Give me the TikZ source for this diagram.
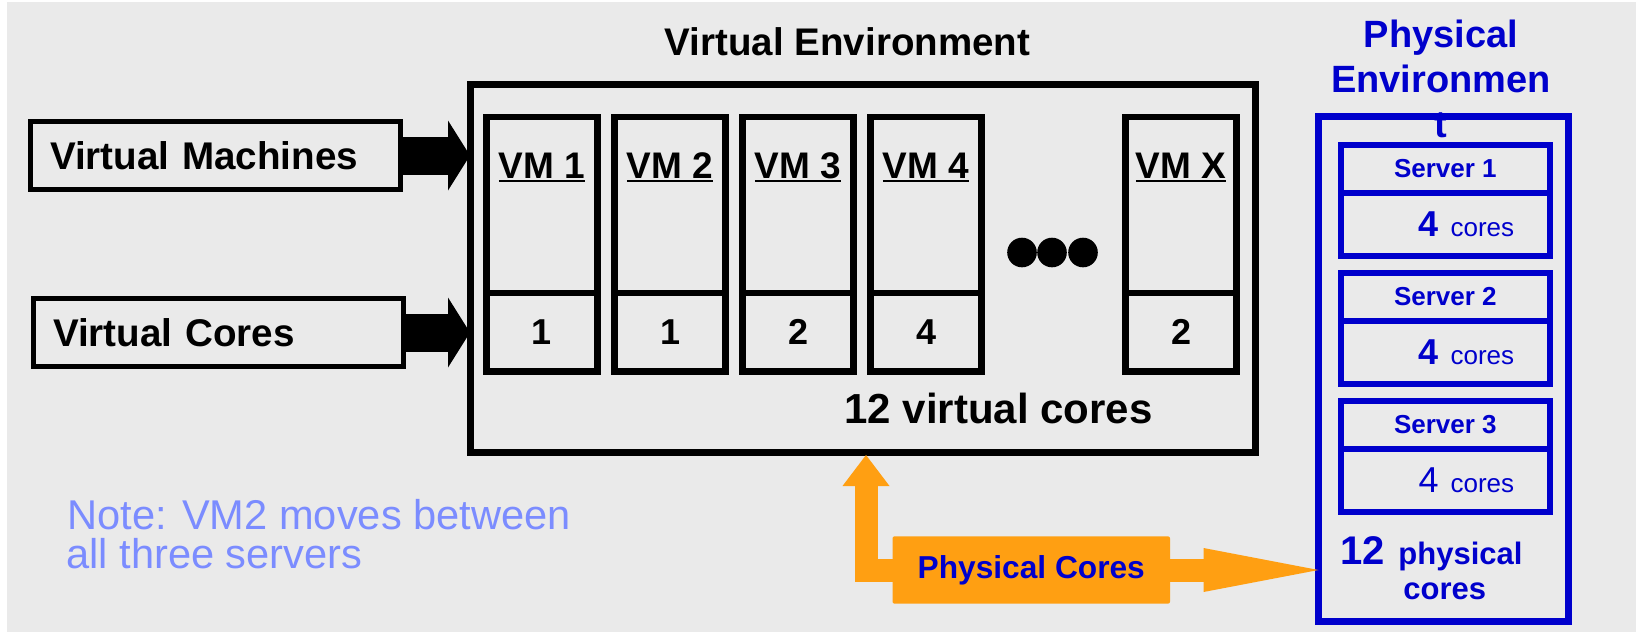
\documentclass[tikz,border=0pt]{standalone}
\usepackage{fontspec}
\setmainfont{Liberation Sans}
\usetikzlibrary{arrows.meta}

\definecolor{bggray}{HTML}{EAEAEA}
\definecolor{srvblue}{HTML}{0000CC}
\definecolor{notecol}{HTML}{7B8CFF}
\definecolor{coreorange}{HTML}{FF9F12}

\newcommand{\ulvm}[1]{\setbox0\hbox{#1}\rlap{\rule[-2pt]{\wd0}{1pt}}\box0}

\tikzset{
  labelbox/.style={draw, line width=2.5pt, outer sep=0pt, inner xsep=9.75pt,
    text width=165.5pt, align=left, minimum height=34pt,
    font=\fontsize{19.3}{22}\selectfont\bfseries},
  envbox/.style={draw, line width=3.5pt, outer sep=0pt},
  vmbox/.style={draw, line width=3.3pt, outer sep=0pt, anchor=north,
    minimum width=55.5pt, minimum height=88pt},
  vmcore/.style={draw, line width=3.3pt, outer sep=0pt, anchor=north,
    minimum width=55.5pt, minimum height=39.25pt,
    font=\fontsize{18}{20}\selectfont\bfseries},
  vmname/.style={anchor=base, inner sep=0pt, font=\fontsize{18.5}{20}\selectfont\bfseries},
  srvhead/.style={draw=srvblue, line width=3pt, outer sep=0pt, anchor=north,
    minimum width=104.5pt, minimum height=24pt, text=srvblue,
    font=\fontsize{13}{15}\selectfont\bfseries},
  srvbody/.style={draw=srvblue, line width=3pt, outer sep=0pt, anchor=north,
    minimum width=104.5pt, minimum height=31.75pt, text=srvblue},
  blocktext/.style={anchor=base, inner sep=0pt},
  dotnode/.style={circle, fill, inner sep=0pt, minimum size=14.8pt},
  blockarrow/.style={line width=19pt, -{Triangle[length=11pt, width=35pt, line width=0pt]}},
  orangearrow/.style={coreorange, line width=11.5pt, line join=miter}
}

\begin{document}
\begin{tikzpicture}[x=0.5pt, y=-0.5pt]

% Background
\fill[white] (0,0) rectangle (1636,632);
\fill[bggray] (7,2) rectangle (1636,632);
\useasboundingbox (0,0) rectangle (1636,632);

% Left labels
\node[labelbox, anchor=west] (vmlabel) at (30.5,155.5) {Virtual Machines};
\node[labelbox, anchor=west] (vclabel) at (33.5,332.5) {Virtual Cores};

% Virtual environment
\node[blocktext, font=\fontsize{19.25}{22}\selectfont\bfseries] (venvtitle) at (847.5,55) {Virtual Environment};
\node[envbox, minimum width=392.5pt, minimum height=184pt] (venv) at (862.5,268) {};

\foreach \n/\x/\c in {1/542/1, 2/670/1, 3/798/2, 4/926/4, X/1181/2} {
  \node[vmbox] (vm\n) at (\x,117) {};
  \node[vmcore] (vmc\n) at (vm\n.south) {\c};
  \node[vmname] (vmn\n) at ([yshift=-30.5pt]vm\n.north) {\ulvm{VM \n}};
}

\foreach \i/\x in {1/1022, 2/1052, 3/1083}
  \node[dotnode] (dot\i) at (\x,252.5) {};

\node[blocktext, font=\fontsize{21}{24}\selectfont\bfseries] (vtotal) at (998.5,423) {12 virtual cores};

% Arrows into the virtual environment
\draw[blockarrow] (vmlabel.east) -- (vmlabel.east -| venv.west);
\draw[blockarrow] (vclabel.east) -- (vclabel.east -| venv.west);

% Physical environment
\node[blocktext, text=srvblue, font=\fontsize{19}{22}\selectfont\bfseries] (phystitle1) at (1441,47.5) {Physical};
\node[blocktext, text=srvblue, font=\fontsize{19}{22}\selectfont\bfseries] (phystitle2) at (1441,92.5) {Environmen};
\node[blocktext, text=srvblue, font=\fontsize{19}{22}\selectfont\bfseries] (phystitle3) at (1441,137) {t};
\node[draw=srvblue, line width=3.5pt, outer sep=0pt, minimum width=124.75pt, minimum height=252.5pt] (phys) at (1443.25,369) {};

\foreach \i/\w in {1/\bfseries, 2/\bfseries, 3/\mdseries} {
  \node[srvhead] (srv\i) at (1445.3,{144.7+128*(\i-1)}) {Server \i\hspace{7pt}};
  \node[srvbody] (srvc\i) at (srv\i.south) {\hspace{21pt}{\fontsize{18}{20}\selectfont\w 4}\hspace{6pt}{\fontsize{13}{15}\selectfont cores}};
}

\node[anchor=base west, inner sep=0pt, text=srvblue, font=\fontsize{20}{22}\selectfont\bfseries] (ptotal) at (1340,564) {12};
\node[anchor=base west, inner sep=0pt, text=srvblue, font=\fontsize{15.5}{18}\selectfont\bfseries] (ptotal2) at (1398,564) {physical};
\node[anchor=base west, inner sep=0pt, text=srvblue, font=\fontsize{15.5}{18}\selectfont\bfseries] (ptotal3) at (1403,599) {cores};

% Physical cores
\node[fill=coreorange, rounded corners=1pt, outer sep=0pt, minimum width=138.75pt, minimum height=33.65pt,
  text=srvblue, font=\fontsize{15.85}{18}\selectfont\bfseries] (pcores) at (1031.25,570) {Physical Cores};
\coordinate (uptip) at (866,455);
\draw[orangearrow, -{Triangle[length=15.5pt, width=23.5pt, line width=0pt]}] (pcores.west) -| (uptip);
\draw[orangearrow, -{Triangle[length=57.5pt, width=22pt, line width=0pt]}] (pcores.east) -- (pcores.east -| phys.west);

% Note
\node[anchor=base west, inner sep=0pt, text=notecol, font=\fontsize{20.8}{24}\selectfont] (note1) at (67,529) {Note: VM2 moves between};
\node[anchor=base west, inner sep=0pt, text=notecol, font=\fontsize{20.8}{24}\selectfont] (note2) at (66,568) {all three servers};

\end{tikzpicture}
\end{document}
